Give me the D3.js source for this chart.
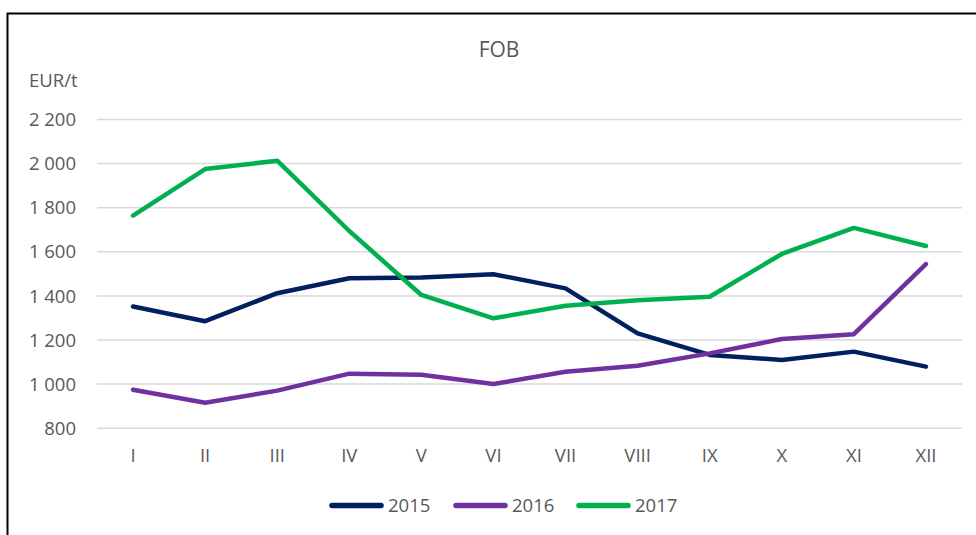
<!DOCTYPE html>
<html>
<head>
<meta charset="utf-8">
<script src="https://cdn.jsdelivr.net/npm/d3@7"></script>
<style>
  body { margin: 0; background: #fff; }
  svg text { font-family: "Open Sans", "Noto Sans", sans-serif; fill: #595959; }
</style>
</head>
<body>
<svg id="chart" width="976" height="535"></svg>
<script>
// data
var months = ['I', 'II', 'III', 'IV', 'V', 'VI', 'VII', 'VIII', 'IX', 'X', 'XI', 'XII'];
var yTicks = [800, 1000, 1200, 1400, 1600, 1800, 2000, 2200];
var years = ['2015', '2016', '2017'];
var v2015 = [1350, 1283, 1410, 1478, 1481, 1496, 1432, 1228, 1130, 1107, 1145, 1077];
var v2016 = [972, 913, 968, 1045, 1040, 998, 1054, 1081, 1137, 1202, 1224, 1542];
var v2017 = [1762, 1973, 2011, 1692, 1402, 1296, 1353, 1378, 1394, 1588, 1706, 1624];
var colors = ['#002060', '#7030A0', '#00B050'];

var series = [v2015, v2016, v2017].map(function(vals, i) {
  return { name: years[i], color: colors[i], values: vals };
});

// ukuran
var margin = {top: 119, left: 97},
    width = 865,
    height = 308.7,
    fontSize = '18.5px';

var svg = d3.select('#chart');

// bingkai
svg.append('path')
  .attr('d', 'M7.5,535 V13.5 H976')
  .attr('fill', 'none')
  .attr('stroke', '#000')
  .attr('stroke-width', 2);

var x = d3.scaleBand()
  .domain(months)
  .range([0, width]);

var y = d3.scaleLinear()
  .domain([800, 2200])
  .range([height, 0]);

var fmt = d3.formatLocale({decimal: ',', thousands: ' ', grouping: [3], currency: ['', '']}).format(',d');

var g = svg.append('g')
  .attr('transform', 'translate(' + margin.left + ',' + margin.top + ')');

// grid + label sumbu y
var yAxis = d3.axisLeft(y)
  .tickValues(yTicks)
  .tickSize(-width)
  .tickPadding(21)
  .tickFormat(fmt);

g.append('g')
  .attr('class', 'y axis')
  .call(yAxis)
  .call(function(s) {
    s.select('.domain').remove();
    s.selectAll('.tick line').attr('stroke', '#d9d9d9').attr('stroke-width', 1.5);
    s.selectAll('.tick text').attr('font-size', fontSize).attr('dy', '0.36em');
  });

// sumbu x
var xAxis = d3.axisBottom(x).tickSize(0).tickPadding(21);
g.append('g')
  .attr('class', 'x axis')
  .attr('transform', 'translate(0,' + height + ')')
  .call(xAxis)
  .call(function(s) {
    s.select('.domain').remove();
    s.selectAll('.tick text').attr('font-size', fontSize);
  });

// garis
var line = d3.line()
  .x(function(d, i) { return x(months[i]) + x.bandwidth() / 2; })
  .y(function(d) { return y(d); });

g.selectAll('.series')
  .data(series)
  .enter().append('path')
  .attr('class', 'series')
  .attr('fill', 'none')
  .attr('stroke', function(d) { return d.color; })
  .attr('stroke-width', 4.5)
  .attr('stroke-linejoin', 'round')
  .attr('stroke-linecap', 'round')
  .attr('d', function(d) { return line(d.values); });

// judul
svg.append('text')
  .attr('x', 499)
  .attr('y', 57)
  .attr('text-anchor', 'middle')
  .attr('font-size', '21px')
  .text('FOB');

svg.append('text')
  .attr('x', 29)
  .attr('y', 87)
  .attr('font-size', fontSize)
  .text('EUR/t');

// legenda
var legendX = [330, 454, 577];
var legend = svg.selectAll('.legend')
  .data(series)
  .enter().append('g')
  .attr('class', 'legend')
  .attr('transform', function(d, i) { return 'translate(' + legendX[i] + ',505.5)'; });

legend.append('line')
  .attr('x1', 2).attr('x2', 51)
  .attr('stroke', function(d) { return d.color; })
  .attr('stroke-width', 5.5)
  .attr('stroke-linecap', 'round');

legend.append('text')
  .attr('x', 58)
  .attr('y', 6.5)
  .attr('font-size', fontSize)
  .text(function(d) { return d.name; });
</script>
</body>
</html>
